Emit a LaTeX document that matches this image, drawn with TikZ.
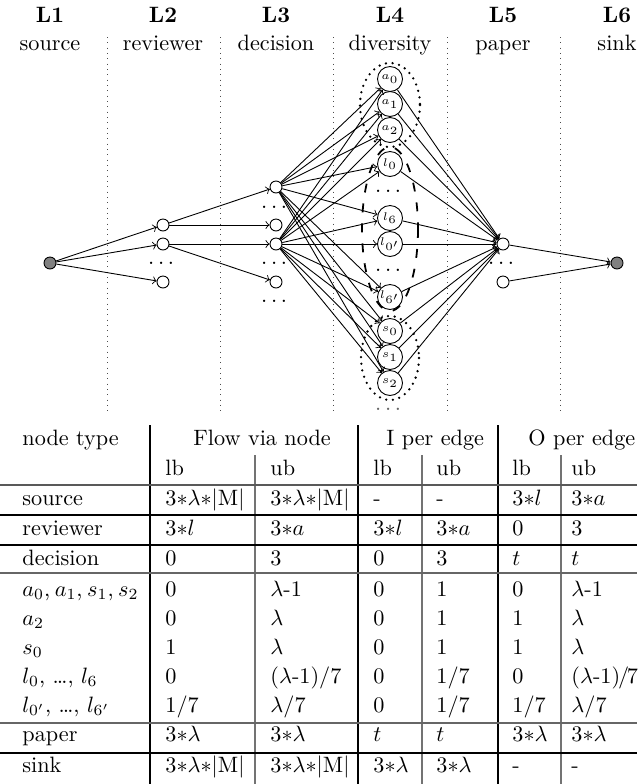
\documentclass[tikz,border=0pt]{standalone}
\usepackage{amsmath}
\usepackage{amssymb}
\usepackage{tikz}

% one row of the bound table: name, baseline, type, then six values
\newcommand{\tabrow}[9]{%
  \node[cell] (#1-0) at (22,#2) {#3};
  \node[cell] (#1-1) at (165,#2) {#4};
  \node[cell] (#1-2) at (270,#2) {#5};
  \node[cell] (#1-3) at (373,#2) {#6};
  \node[cell] (#1-4) at (436,#2) {#7};
  \node[cell] (#1-5) at (512,#2) {#8};
  \node[cell] (#1-6) at (571,#2) {#9};
}
\newcommand{\lamM}{$3{*}\lambda{*}|\mathrm{M}|$}

\begin{document}
\begin{tikzpicture}[x=0.45pt, y=-0.45pt,
    vtx/.style={circle, draw, inner sep=0pt, minimum size=5.4pt},
    endpt/.style={vtx, fill=gray},
    divnode/.style={circle, draw, inner sep=0pt, minimum size=11.25pt, font=\tiny},
    flow/.style={->},
    layersep/.style={dotted, black!70},
    groupdots/.style={line width=1.15pt, dash pattern=on 0pt off 3pt, line cap=round},
    groupdash/.style={thick, dash pattern=on 4pt off 5pt},
    cell/.style={anchor=base west, inner sep=0pt},
    thickrule/.style={line width=0.9pt},
    thinrule/.style={line width=0.5pt, black!55}]
    \useasboundingbox (0,0) rectangle (637,784);

    % Layer headers
    \foreach \i/\x/\name in {1/50/source, 2/163/reviewer, 3/276/decision,
                             4/390/diversity, 5/503/paper, 6/617/sink} {
        \node[anchor=base, font=\bfseries] (lay\i) at (\x,22) {L\i};
        \node[anchor=base] (lname\i) at (\x,50) {\name};
    }
    \foreach \x in {107,220,333,447,560}
        \draw[layersep] (\x,37) -- (\x,414);

    % L1 and L2
    \node[endpt] (src) at (50,263) {};
    \node[vtx] (rev1) at (163,225) {};
    \node[vtx] (rev2) at (163,244) {};
    \node (revdots) at (163,263) {$\dots$};
    \node[vtx] (rev3) at (163,282) {};

    % L3
    \node[vtx] (dec1) at (276,187) {};
    \node (decdots1) at (276,207) {$\dots$};
    \node[vtx] (dec2) at (276,225) {};
    \node[vtx] (dec3) at (276,244) {};
    \node (decdots2) at (276,263) {$\dots$};
    \node[vtx] (dec4) at (276,282) {};
    \node (decdots3) at (276,301) {$\dots$};

    % L4
    \node[divnode] (a0) at (390,79) {$a_0$};
    \node[divnode] (a1) at (390,104) {$a_1$};
    \node[divnode] (a2) at (390,130) {$a_2$};
    \node[divnode] (l0) at (390,164) {$l_0$};
    \node (ldots1) at (390,191) {$\dots$};
    \node[divnode] (l6) at (390,218) {$l_6$};
    \node[divnode] (l0p) at (390,244) {$l_{0'}$};
    \node (ldots2) at (390,270) {$\dots$};
    \node[divnode] (l6p) at (390,297) {$l_{6'}$};
    \node[divnode] (s0) at (390,331) {$s_0$};
    \node[divnode] (s1) at (390,357) {$s_1$};
    \node[divnode] (s2) at (390,383) {$s_2$};
    \node[black!60] (sdots) at (390,409) {$\dots$};
    \draw[groupdots] (390,105) ellipse [x radius=30, y radius=42];
    \draw[groupdash] (390,229) ellipse [x radius=28, y radius=82];
    \draw[groupdots] (390,358) ellipse [x radius=29, y radius=42];

    % L5 and L6
    \node[vtx] (pap1) at (503,244) {};
    \node (papdots) at (503,263) {$\dots$};
    \node[vtx] (pap2) at (503,282) {};
    \node[endpt] (sink) at (617,263) {};

    % Edges
    \foreach \t in {rev1,rev2,rev3}
        \draw[flow] (src) -- (\t);
    \draw[flow] (rev1) -- (dec1);
    \draw[flow] (rev1) -- (dec2);
    \draw[flow] (rev2) -- (dec3);
    \draw[flow] (rev2) -- (dec4);
    \foreach \t in {a0,a1,a2,l0,l6,l6p,s0,s1,s2}
        \draw[flow] (dec1) -- (\t);
    \foreach \t in {a0,a1,a2,l0,l6,l0p,l6p,s0,s1,s2}
        \draw[flow] (dec3) -- (\t);
    \foreach \t in {a0,a1,a2,l0,l6,l0p,l6p,s0,s1,s2}
        \draw[flow] (\t) -- (pap1);
    \draw[flow] (pap1) -- (sink);
    \draw[flow] (pap2) -- (sink);

    % Table rules
    \foreach \x in {150,358,498}
        \draw[thickrule] (\x,425) -- (\x,784);
    \foreach \x in {255,422,561}
        \draw[thinrule] (\x,455) -- (\x,784);
    \draw[line width=1.3pt, black!65] (0,485) -- (637,485);
    \foreach \y in {515,545,753}
        \draw[line width=0.5pt] (0,\y) -- (637,\y);
    \foreach \y in {573,723}
        \draw[line width=0.8pt, black!60] (0,\y) -- (637,\y);

    % Table header
    \node[cell] (hd-0) at (22,445) {node type};
    \node[cell] (hd-1) at (193,445) {Flow via node};
    \node[cell] (hd-3) at (386,445) {I per edge};
    \node[cell] (hd-5) at (528,445) {O per edge};
    \foreach \c/\x in {1/165,2/270,3/373,4/436,5/512,6/571}
        \node[cell] (sub-\c) at (\x,475) {\ifodd\c lb\else ub\fi};

    % Table body
    \tabrow{rsrc}{505}{source}{\lamM}{\lamM}{-}{-}{$3{*}l$}{$3{*}a$}
    \tabrow{rrev}{535}{reviewer}{$3{*}l$}{$3{*}a$}{$3{*}l$}{$3{*}a$}{0}{3}
    \tabrow{rdec}{565}{decision}{0}{3}{0}{3}{$t$}{$t$}
    \tabrow{ra}{596}{$a_0$,\hspace{2pt}$a_1$,\hspace{2pt}$s_1$,\hspace{2pt}$s_2$}{0}{$\lambda$-1}{0}{1}{0}{$\lambda$-1}
    \tabrow{ratwo}{625}{$a_2$}{0}{$\lambda$}{0}{1}{1}{$\lambda$}
    \tabrow{rs}{654}{$s_0$}{1}{$\lambda$}{0}{1}{1}{$\lambda$}
    \tabrow{rl}{683}{$l_0$, \dots, $l_6$}{0}{($\lambda$-1)/7}{0}{1/7}{0}{($\lambda$-1)\kern-1pt/\kern-1pt7}
    \tabrow{rlp}{712}{$l_{0'}$, \dots, $l_{6'}$}{1/7}{$\lambda$/7}{0}{1/7}{1/7}{$\lambda$/7}
    \tabrow{rpap}{741}{paper}{$3{*}\lambda$}{$3{*}\lambda$}{$t$}{$t$}{$3{*}\lambda$}{$3{*}\lambda$}
    \tabrow{rsink}{772}{sink}{\lamM}{\lamM}{$3{*}\lambda$}{$3{*}\lambda$}{-}{-}
\end{tikzpicture}
\end{document}
